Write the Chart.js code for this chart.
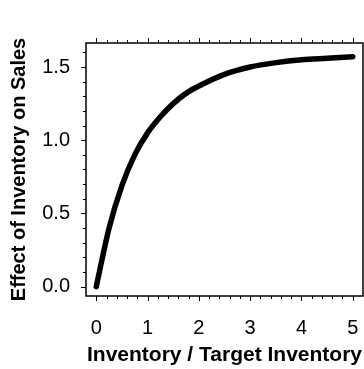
<!DOCTYPE html>
<html lang="en">
<head>
    <meta charset="UTF-8">
    <title>Effect of Inventory on Sales</title>
    <script src="https://cdn.jsdelivr.net/npm/chart.js"></script>
    <style>
        html, body { margin: 0; padding: 0; background: #fff; overflow: hidden; }
        #wrap { width: 364px; height: 369px; }
        canvas { display: block; }
    </style>
</head>
<body>
    <div id="wrap"><canvas id="effectChart"></canvas></div>
    <script>
        // inventory ratio and the sales effect
        const inventoryRatio = [0, 0.25, 0.5, 0.75, 1, 1.25, 1.5, 1.75, 2, 2.5, 3, 3.5, 4, 4.5, 5];
        const salesEffect = [0, 0.40, 0.69, 0.90, 1.05, 1.16, 1.25, 1.32, 1.37, 1.45, 1.50, 1.53, 1.55, 1.56, 1.57];

        const xTickValues = [0, 1, 2, 3, 4, 5];
        const yTickValues = [0, 0.5, 1.0, 1.5];

        const font = 'Liberation Sans, Arial, Helvetica, sans-serif';

        // minor/major tick marks outside the box, plus the box itself
        const frame = {
            id: 'frame',
            afterDraw(chart) {
                const { ctx, chartArea: a, scales } = chart;
                const xs = scales.x, ys = scales.y;
                ctx.save();
                ctx.strokeStyle = '#000';
                ctx.lineWidth = 1.5;
                ctx.strokeRect(a.left, a.top, a.right - a.left, a.bottom - a.top);
                ctx.lineWidth = 1;
                ctx.beginPath();
                for (let i = 0; i <= 25; i++) {
                    const v = i * 0.2;
                    const len = i % 5 === 0 ? 5 : 3;
                    const px = Math.round(xs.getPixelForValue(v)) + 0.5;
                    ctx.moveTo(px, a.bottom); ctx.lineTo(px, a.bottom + len);
                    ctx.moveTo(px, a.top); ctx.lineTo(px, a.top - len);
                }
                for (let i = 0; i <= 16; i++) {
                    const v = i * 0.1;
                    const len = i % 5 === 0 ? 5 : 3;
                    const py = Math.round(ys.getPixelForValue(v)) + 0.5;
                    ctx.moveTo(a.left, py); ctx.lineTo(a.left - len, py);
                }
                ctx.stroke();
                ctx.restore();
            }
        };

        new Chart(document.getElementById('effectChart'), {
            type: 'line',
            data: {
                datasets: [{
                    data: inventoryRatio.map((x, i) => ({ x: x, y: salesEffect[i] })),
                    borderColor: '#000',
                    borderWidth: 5.5,
                    borderCapStyle: 'round',
                    borderJoinStyle: 'round',
                    cubicInterpolationMode: 'monotone',
                    pointRadius: 0,
                    fill: false
                }]
            },
            options: {
                responsive: true,
                maintainAspectRatio: false,
                animation: false,
                layout: { autoPadding: false, padding: { top: 43, right: 1, left: 0, bottom: 0 } },
                plugins: { legend: { display: false }, tooltip: { enabled: false } },
                scales: {
                    x: {
                        type: 'linear',
                        min: -0.2,
                        max: 5.2,
                        afterBuildTicks: s => { s.ticks = xTickValues.map(v => ({ value: v })); },
                        afterFit: s => { s.height = 73; s.paddingLeft = 0; s.paddingRight = 0; },
                        // tick marks come from the frame plugin; tickLength only spaces the labels
                        grid: { display: false, drawTicks: true, tickLength: 20 },
                        border: { display: false },
                        ticks: {
                            padding: 0,
                            color: '#000',
                            font: { family: font, size: 20 },
                            maxRotation: 0,
                            callback: v => String(v)
                        },
                        title: {
                            display: true,
                            text: 'Inventory / Target Inventory',
                            color: '#000',
                            font: { family: font, size: 21, weight: 'bold' },
                            padding: { top: 0, bottom: 1 }
                        }
                    },
                    y: {
                        type: 'linear',
                        min: -0.064,
                        max: 1.664,
                        afterBuildTicks: s => { s.ticks = yTickValues.map(v => ({ value: v })); },
                        afterFit: s => { s.width = 86; s.paddingTop = 0; s.paddingBottom = 0; },
                        grid: { display: false, drawTicks: true, tickLength: 16 },
                        border: { display: false },
                        ticks: {
                            padding: 0,
                            color: '#000',
                            font: { family: font, size: 20 },
                            callback: v => v.toFixed(1)
                        },
                        title: {
                            display: true,
                            text: 'Effect of Inventory on Sales',
                            color: '#000',
                            font: { family: font, size: 20, weight: 'bold' },
                            padding: { top: 7, bottom: 0 }
                        }
                    }
                }
            },
            plugins: [frame]
        });
    </script>
</body>
</html>
